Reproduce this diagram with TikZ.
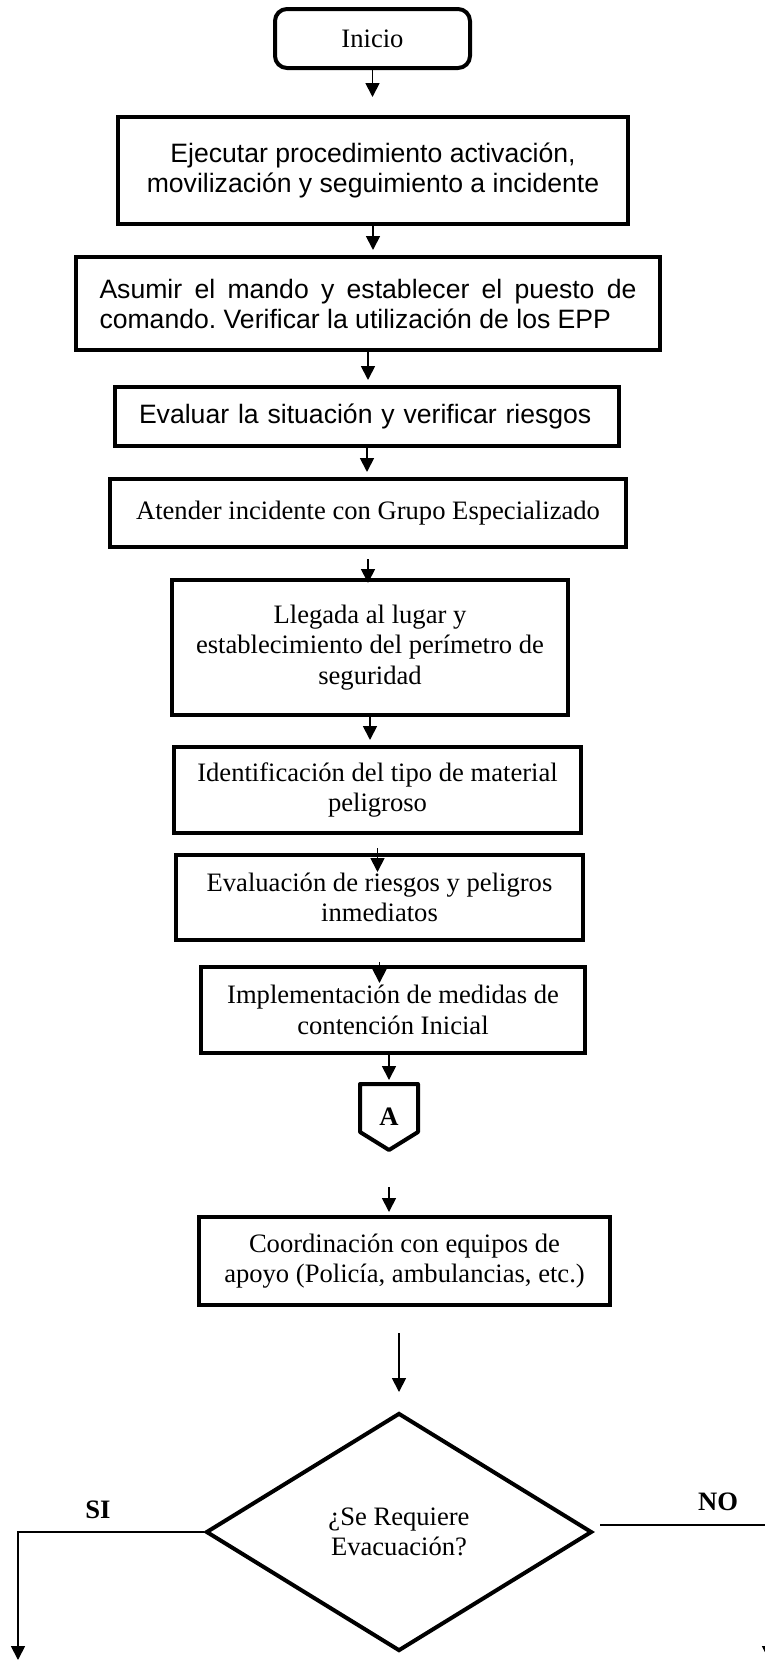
\documentclass[tikz,border=0pt]{standalone}
\usepackage{fontspec}
\setmainfont{Liberation Serif}
\setsansfont{Liberation Sans}
\usetikzlibrary{arrows.meta,shapes.geometric}

\tikzset{
  caja/.style={draw, line width=2pt, align=center, inner sep=0pt,
    font=\frenchspacing\fontsize{13.3}{15.3}\selectfont},
  cajasans/.style={caja, font=\frenchspacing\sffamily\fontsize{13.3}{15}\selectfont},
  rotulo/.style={font=\bfseries\fontsize{13.3}{15.3}\selectfont, inner sep=0pt},
  flecha/.style={line width=0.9pt, -{Triangle[width=7pt,length=7pt]}},
}

\begin{document}
\begin{tikzpicture}[x=0.5pt,y=-0.5pt]
  \useasboundingbox (0,0) rectangle (765,1660);

  % pasos del procedimiento
  \node[caja, rounded corners=6pt, minimum width=97.5pt, minimum height=29.5pt] (ini) at (372.5,38.5) {Inicio};
  \node[cajasans, minimum width=255pt, minimum height=53.5pt] (eje) at (373,170.5) {Ejecutar procedimiento activación,\\movilización y seguimiento a incidente};
  \node[cajasans, minimum width=292pt, minimum height=46.5pt, text width=268.5pt, align=justify] (asu) at (368,303.5) {\hyphenpenalty=10000 Asumir el mando y establecer el puesto de\linebreak comando. Verificar la utilización de los EPP};
  \node[cajasans, minimum width=252pt, minimum height=29.5pt, text width=228pt, align=left] (eva) at (367,416.5) {Evaluar la situación y verificar riesgos};
  \node[caja, minimum width=258pt, minimum height=34pt] (ate) at (368,513) {Atender incidente con Grupo Especializado};
  \node[caja, minimum width=198pt, minimum height=67.5pt] (lle) at (370,647.5) {Llegada al lugar y\\establecimiento del perímetro de\\seguridad};
  \node[caja, minimum width=203.5pt, minimum height=43pt] (ide) at (377.5,790) {Identificación del tipo de material\\peligroso};
  \node[caja, minimum width=203.5pt, minimum height=42.5pt] (evr) at (379.5,897.5) {Evaluación de riesgos y peligros\\inmediatos};
  \node[caja, minimum width=192pt, minimum height=43pt] (imp) at (393,1010) {Implementación de medidas de\\contención Inicial};

  % conector de pagina
  \node[rotulo, minimum width=29pt, minimum height=33pt, outer sep=0pt] (conA) at (389,1117) {A};
  \draw[line width=2pt, line join=round] (conA.north west) -- (conA.north east)
    -- ([yshift=9pt]conA.south east) -- (conA.south) -- ([yshift=9pt]conA.south west) -- cycle;

  \node[caja, minimum width=205.5pt, minimum height=44pt] (coo) at (404.5,1261) {Coordinación con equipos de\\apoyo (Policía, ambulancias, etc.)};
  \node[caja, diamond, minimum width=193pt, minimum height=119pt] (dec) at (399,1532) {¿Se Requiere\\Evacuación?};

  \coordinate (siend) at (18,1660);
  \coordinate (noend) at (769,1660);

  % flechas
  \draw[flecha, shorten >=9pt] (ini.south) -- (ini.south |- eje.north);
  \draw[flecha, shorten >=2.5pt] (eje.south) -- (eje.south |- asu.north);
  \draw[flecha, shorten >=2.5pt] (asu.south) -- (asu.south |- eva.north);
  \draw[flecha, shorten >=2.5pt] (eva.south) -- (eva.south |- ate.north);
  \draw[flecha, shorten <=5pt, shorten >=-2.5pt] (ate.south) -- (ate.south |- lle.north);
  \draw[flecha, shorten >=2.5pt] (lle.south) -- (lle.south |- ide.north);
  \draw[flecha, shorten <=6.5pt, shorten >=-9.5pt] (ide.south) -- (ide.south |- evr.north);
  \draw[flecha, shorten <=10pt, shorten >=-9pt] (evr.south) -- (evr.south |- imp.north);
  \draw[flecha, shorten >=2pt] (imp.south -| conA.north) -- (conA.north);
  \draw[flecha, shorten <=18.5pt, shorten >=1.5pt] (conA.south) -- (conA.south |- coo.north);
  \draw[flecha, shorten <=13pt, shorten >=9.5pt] (coo.south -| dec.north) -- (dec.north);

  \draw[flecha] (dec.west) -| (siend);
  \draw[flecha] ([xshift=3pt,yshift=3.5pt]dec.east) -| (noend);
  \node[rotulo] (si) at (98,1510) {SI};
  \node[rotulo] (no) at (718,1502) {NO};

\end{tikzpicture}
\end{document}
